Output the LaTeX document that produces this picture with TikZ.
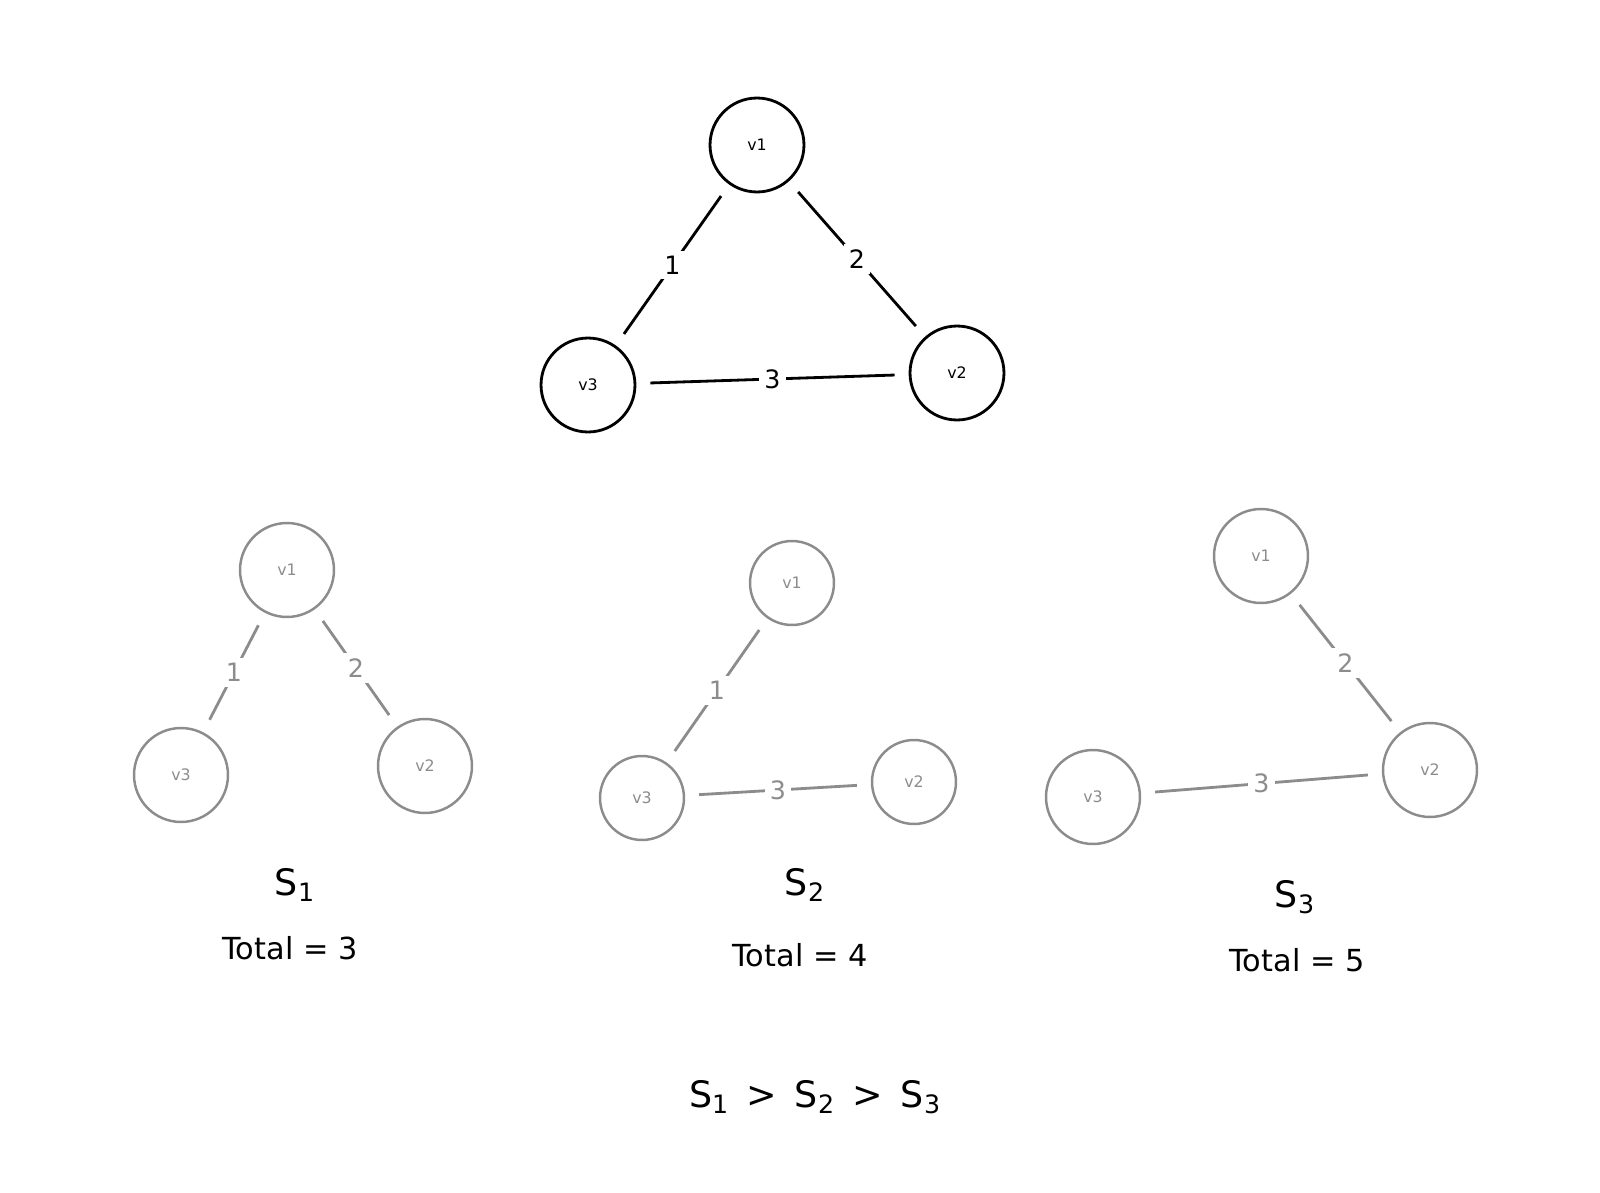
\documentclass[tikz,border=0pt]{standalone}
\usepackage{fontspec}
\setmainfont{DejaVu Sans}
\begin{document}
\begin{tikzpicture}[x=0.02cm,y=-0.02cm,
  vtx/.style={circle,draw,line width=1.6pt,minimum size=#1*0.04cm,inner sep=0pt,font=\small},
  vtx/.default=47,
  gv/.style={vtx=#1,draw=gray!90,text=gray!90,line width=1.4pt},
  gv/.default=47,
  ed/.style={line width=1.6pt,shorten >=8pt,shorten <=8pt},
  ged/.style={line width=1.6pt,gray!90,shorten >=8pt,shorten <=8pt},
  lab/.style={fill=white,inner sep=3pt,font=\Large},
  glab/.style={fill=white,inner sep=3pt,font=\Large,text=gray!90},
  big/.style={font=\huge},
  tot/.style={font=\LARGE}]
\useasboundingbox (0,0) rectangle (1600,1193);
% top
\node[vtx] (a1) at (757,145) {v1};
\node[vtx] (a2) at (957,373) {v2};
\node[vtx] (a3) at (588,385) {v3};
\draw[ed] (a1) -- node[lab]{1} (a3);
\draw[ed] (a1) -- node[lab]{2} (a2);
\draw[ed] (a3) -- node[lab]{3} (a2);
% S1
\node[gv] (b1) at (287,570) {v1};
\node[gv] (b2) at (425,766) {v2};
\node[gv] (b3) at (181,775) {v3};
\draw[ged] (b1) -- node[glab]{1} (b3);
\draw[ged] (b1) -- node[glab]{2} (b2);
\node[big] (s1) at (295,885) {S\textsubscript{1}};
\node[tot] (t1) at (290,948) {Total = 3};
% S2
\node[gv=42] (c1) at (792,583) {v1};
\node[gv=42] (c2) at (914,782) {v2};
\node[gv=42] (c3) at (642,798) {v3};
\draw[ged] (c1) -- node[glab]{1} (c3);
\draw[ged] (c3) -- node[glab]{3} (c2);
\node[big] (s2) at (805,885) {S\textsubscript{2}};
\node[tot] (t2) at (800,955) {Total = 4};
% S3
\node[gv] (d1) at (1261,556) {v1};
\node[gv] (d2) at (1430,770) {v2};
\node[gv] (d3) at (1093,797) {v3};
\draw[ged] (d1) -- node[glab]{2} (d2);
\draw[ged] (d3) -- node[glab]{3} (d2);
\node[big] (s3) at (1295,897) {S\textsubscript{3}};
\node[tot] (t3) at (1297,960) {Total = 5};
% bottom
\node[big] (cmp) at (815,1097) {S\textsubscript{1} \,>\, S\textsubscript{2} \,>\, S\textsubscript{3}};
\end{tikzpicture}
\end{document}
